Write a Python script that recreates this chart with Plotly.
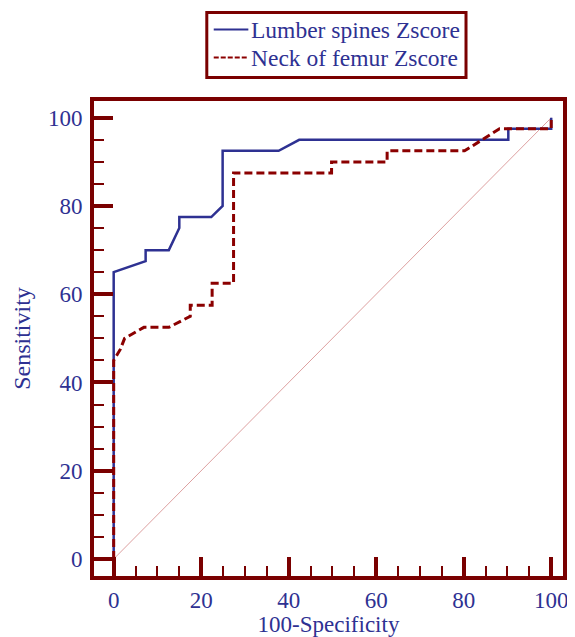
import plotly.graph_objects as go

# Lumber spines Zscore ROC curve
lumber_x = [0, 0, 7.3, 7.3, 12.6, 15.0, 15.0, 22.3, 24.9, 24.9, 37.7, 42.4, 90.2, 90.2, 100, 100]
lumber_y = [0, 65.0, 67.5, 70.0, 70.0, 75.0, 77.5, 77.5, 80.0, 92.5, 92.5, 95.0, 95.0, 97.5, 97.5, 100]

# Neck of femur Zscore ROC curve
femur_x = [0, 0, 1.5, 2.5, 6.9, 12.6, 17.5, 17.5, 22.5, 22.5, 27.4, 27.4, 49.8, 49.8, 62.5, 62.5, 80.2, 88.2, 100, 100]
femur_y = [0, 45.0, 47.5, 50.0, 52.5, 52.5, 55.0, 57.5, 57.5, 62.5, 62.5, 87.5, 87.5, 90.0, 90.0, 92.5, 92.5, 97.5, 97.5, 100]

# Reference diagonal
diag_x = [0, 100]
diag_y = [0, 100]

series_names = ["Lumber spines Zscore", "Neck of femur Zscore"]

tick_vals = [0, 20, 40, 60, 80, 100]
tick_text = ["0", "20", "40", "60", "80", "100"]

FRAME = "#7A0000"
TEXT = "#2E3192"
BLUE = "#2E3192"
RED = "#8B0000"
FONT = "Liberation Serif"

fig = go.Figure()
fig.add_trace(go.Scatter(x=diag_x, y=diag_y, mode="lines",
                         line=dict(color="#DDA0A0", width=1), showlegend=False,
                         hoverinfo="skip"))
fig.add_trace(go.Scatter(x=lumber_x, y=lumber_y, mode="lines", name=series_names[0],
                         line=dict(color=BLUE, width=2.5), showlegend=False))
fig.add_trace(go.Scatter(x=femur_x, y=femur_y, mode="lines", name=series_names[1],
                         line=dict(color=RED, width=3, dash="8px,4px"), showlegend=False))

axis_common = dict(
    showgrid=False, zeroline=False,
    showline=True, linecolor=FRAME, linewidth=4, mirror=True,
    ticks="inside", ticklen=19, tickwidth=4, tickcolor=FRAME,
    tickvals=tick_vals, ticktext=tick_text,
    tickfont=dict(family=FONT, size=23, color=TEXT),
    minor=dict(ticks="inside", ticklen=10, tickwidth=2, tickcolor=FRAME, dtick=5, showgrid=False),
)

fig.update_xaxes(range=[-4.5, 102.7],
                 title=dict(text="100-Specificity", font=dict(family=FONT, size=23, color=TEXT), standoff=0),
                 **axis_common)
fig.update_yaxes(range=[-3.86, 103.8], ticklabelstandoff=3,
                 title=dict(text="Sensitivity", font=dict(family=FONT, size=24, color=TEXT), standoff=12),
                 **axis_common)

# Hand-drawn legend box (paper coordinates)
leg_x0, leg_x1 = 0.2405, 0.7932
leg_y0, leg_y1 = 1.0494, 1.1861
row_y = [1.1504, 1.0915]
sw_x0, sw_x1 = 0.2553, 0.3291
txt_x = 0.3305

shapes = [dict(type="rect", xref="paper", yref="paper", x0=leg_x0, x1=leg_x1, y0=leg_y0, y1=leg_y1,
               line=dict(color=FRAME, width=3), fillcolor="white", layer="above")]
shapes.append(dict(type="line", xref="paper", yref="paper", x0=sw_x0, x1=sw_x1, y0=row_y[0], y1=row_y[0],
                   line=dict(color=BLUE, width=2)))
shapes.append(dict(type="line", xref="paper", yref="paper", x0=sw_x0, x1=sw_x1, y0=row_y[1], y1=row_y[1],
                   line=dict(color=RED, width=2, dash="5px,2px")))

annotations = [dict(text=name, xref="paper", yref="paper", x=txt_x, y=ry, xanchor="left", yanchor="middle",
                    showarrow=False, font=dict(family=FONT, size=23.5, color=TEXT))
               for name, ry in zip(series_names, row_y)]

fig.update_layout(
    width=567, height=629,
    margin=dict(l=86, r=7, t=92.5, b=61),
    plot_bgcolor="white", paper_bgcolor="white",
    font=dict(family=FONT, color=TEXT),
    showlegend=False,
    shapes=shapes,
    annotations=annotations,
)

fig.write_html("out.html")
